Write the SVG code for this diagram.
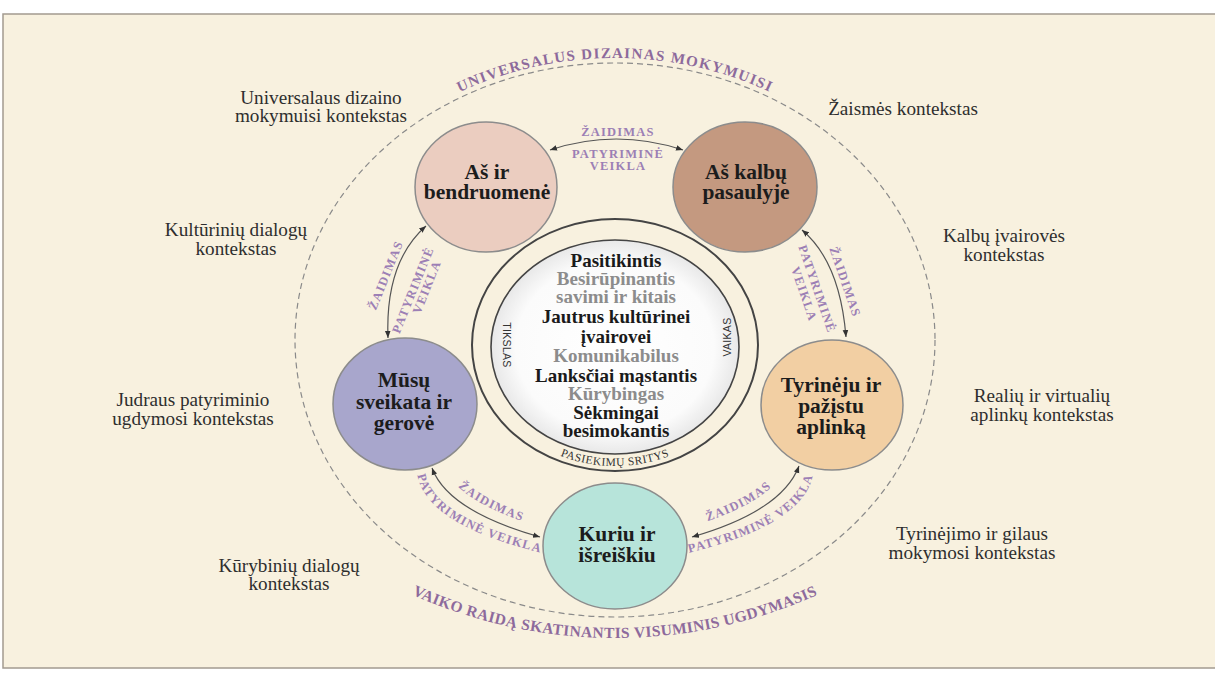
<svg xmlns="http://www.w3.org/2000/svg" width="1215" height="684" viewBox="0 0 1215 684">
<style>
.ctx{font-family:"Liberation Serif",serif;font-size:19.2px;fill:#2e2e2e;text-anchor:middle}
.node{stroke:#8c8c8c;stroke-width:1.5}
.nt{font-family:"Liberation Serif",serif;font-weight:bold;font-size:21.5px;fill:#1c1c1c;text-anchor:middle}
.ct{font-family:"Liberation Serif",serif;font-weight:bold;font-size:19px;text-anchor:middle}
.blk{fill:#1a1a1a}
.gry{fill:#8c8c8c}
.lbl{font-family:"Liberation Serif",serif;font-weight:bold;font-size:12.5px;fill:#9C7FB5;letter-spacing:1.2px;text-anchor:middle}
.big{font-family:"Liberation Serif",serif;font-weight:bold;font-size:15px;fill:#8D6A9C;letter-spacing:1.3px}
.big2{font-family:"Liberation Serif",serif;font-weight:bold;font-size:15.5px;fill:#8D6A9C;letter-spacing:0.4px}
.small{font-family:"Liberation Sans",sans-serif;font-size:10.5px;fill:#333;letter-spacing:0.3px}
.pas{font-family:"Liberation Serif",serif;font-size:11.5px;fill:#333;letter-spacing:0.5px}
.conn{fill:none;stroke:#555;stroke-width:1.2}
</style>
<defs>
<marker id="ah" viewBox="0 0 10 10" refX="10" refY="5" markerWidth="7" markerHeight="7" orient="auto-start-reverse" markerUnits="userSpaceOnUse">
<path d="M0,1 L10,5 L0,9 z" fill="#333"/>
</marker>
<radialGradient id="wg" cx="50%" cy="50%" r="50%">
<stop offset="0%" stop-color="#ffffff"/>
<stop offset="80%" stop-color="#fbfbfb"/>
<stop offset="100%" stop-color="#e8e8e8"/>
</radialGradient>
<path id="topArc" d="M290,340 A325,282 0 0 1 940,340"/>
<path id="botArc" d="M348,560 A496,496 0 0 0 882,560"/>
<path id="pasArc" d="M479,345 A136,121 0 0 0 751,345"/>
<path id="z4" d="M440,461 Q456,504 548,529"/>
<path id="p4" d="M418,478 Q430,525 538,552"/>
<path id="z5" d="M682,529 Q774,504 790,461"/>
<path id="p5" d="M692,552 Q800,525 812,478"/>
</defs>

<rect x="3" y="14" width="1214" height="654" fill="#F8F1DF" stroke="#A39A90" stroke-width="1.5"/>

<g id="outer-ring">
<ellipse cx="615" cy="340" rx="320" ry="277" fill="none" stroke="#8a8a8a" stroke-width="1.2" stroke-dasharray="6 4"/>
<text class="big"><textPath href="#topArc" startOffset="50%" text-anchor="middle">UNIVERSALUS DIZAINAS MOKYMUISI</textPath></text>
<text class="big2"><textPath href="#botArc" startOffset="50%" text-anchor="middle">VAIKO RAIDĄ SKATINANTIS VISUMINIS UGDYMASIS</textPath></text>
</g>

<g id="contexts">
<text class="ctx"><tspan x="321" y="104">Universalaus dizaino</tspan><tspan x="321" y="122">mokymuisi kontekstas</tspan></text>
<text class="ctx" x="903" y="115">Žaismės kontekstas</text>
<text class="ctx"><tspan x="236" y="236">Kultūrinių dialogų</tspan><tspan x="236" y="255">kontekstas</tspan></text>
<text class="ctx"><tspan x="1004" y="242">Kalbų įvairovės</tspan><tspan x="1004" y="261">kontekstas</tspan></text>
<text class="ctx"><tspan x="193" y="406">Judraus patyriminio</tspan><tspan x="193" y="425">ugdymosi kontekstas</tspan></text>
<text class="ctx"><tspan x="1042" y="402">Realių ir virtualių</tspan><tspan x="1042" y="421">aplinkų kontekstas</tspan></text>
<text class="ctx"><tspan x="289" y="572">Kūrybinių dialogų</tspan><tspan x="289" y="590">kontekstas</tspan></text>
<text class="ctx"><tspan x="972" y="540">Tyrinėjimo ir gilaus</tspan><tspan x="972" y="559">mokymosi kontekstas</tspan></text>
</g>

<g id="center">
<ellipse cx="615" cy="345" rx="143" ry="126" fill="none" stroke="#444" stroke-width="2"/>
<ellipse cx="615" cy="347" rx="124" ry="107" fill="url(#wg)" stroke="#444" stroke-width="1.6"/>
<text class="ct"><tspan class="blk" x="616" y="267">Pasitikintis</tspan><tspan class="gry" x="616" y="285">Besirūpinantis</tspan><tspan class="gry" x="616" y="303">savimi ir kitais</tspan><tspan class="blk" x="616" y="323">Jautrus kultūrinei</tspan><tspan class="blk" x="616" y="343">įvairovei</tspan><tspan class="gry" x="616" y="362">Komunikabilus</tspan><tspan class="blk" x="616" y="382">Lanksčiai mąstantis</tspan><tspan class="gry" x="616" y="400">Kūrybingas</tspan><tspan class="blk" x="616" y="419">Sėkmingai</tspan><tspan class="blk" x="616" y="437">besimokantis</tspan></text>
<text class="small" transform="translate(507,345) rotate(90)" text-anchor="middle" y="4">TIKSLAS</text>
<text class="small" transform="translate(727,337) rotate(-90)" text-anchor="middle" y="4">VAIKAS</text>
<text class="pas"><textPath href="#pasArc" startOffset="50%" text-anchor="middle">PASIEKIMŲ SRITYS</textPath></text>
</g>

<g id="connectors">
<path class="conn" d="M550,150 Q616,128 683,150" marker-start="url(#ah)" marker-end="url(#ah)"/>
<path class="conn" d="M426,226 Q385,262 388,338" marker-start="url(#ah)" marker-end="url(#ah)"/>
<path class="conn" d="M802,230 Q840,262 846,337" marker-start="url(#ah)" marker-end="url(#ah)"/>
<path class="conn" d="M432,468 Q448,511 540,537" marker-start="url(#ah)" marker-end="url(#ah)"/>
<path class="conn" d="M692,537 Q782,511 799,466" marker-start="url(#ah)" marker-end="url(#ah)"/>
<text class="lbl"><tspan x="618" y="136">ŽAIDIMAS</tspan><tspan x="618" y="158">PATYRIMINĖ</tspan><tspan x="618" y="170">VEIKLA</tspan></text>
<text class="lbl" transform="translate(410,285) rotate(-68)"><tspan x="0" y="-22">ŽAIDIMAS</tspan><tspan x="-3.5" y="8.7">PATYRIMINĖ</tspan><tspan x="4.5" y="20.5">VEIKLA</tspan></text>
<text class="lbl" transform="translate(820,288) rotate(71)"><tspan x="2.5" y="-21.6">ŽAIDIMAS</tspan><tspan x="0" y="7.2">PATYRIMINĖ</tspan><tspan x="0.5" y="21.1">VEIKLA</tspan></text>
<text class="lbl"><textPath href="#z4" startOffset="52%" text-anchor="middle">ŽAIDIMAS</textPath><textPath href="#p4" startOffset="50%" text-anchor="middle">PATYRIMINĖ VEIKLA</textPath></text>
<text class="lbl"><textPath href="#z5" startOffset="48%" text-anchor="middle">ŽAIDIMAS</textPath><textPath href="#p5" startOffset="50%" text-anchor="middle">PATYRIMINĖ VEIKLA</textPath></text>
</g>

<g id="node-bendruomene">
<ellipse class="node" cx="486" cy="187" rx="71" ry="65" fill="#EBCDC0"/>
<text class="nt"><tspan x="487" y="179">Aš ir</tspan><tspan x="487" y="199">bendruomenė</tspan></text>
</g>
<g id="node-kalbu">
<ellipse class="node" cx="745" cy="187" rx="72" ry="65" fill="#C49980"/>
<text class="nt"><tspan x="746" y="179">Aš kalbų</tspan><tspan x="746" y="199">pasaulyje</tspan></text>
</g>
<g id="node-sveikata">
<ellipse class="node" cx="405" cy="404" rx="72" ry="66" fill="#A8A6CC"/>
<text class="nt"><tspan x="404" y="387">Mūsų</tspan><tspan x="404" y="409">sveikata ir</tspan><tspan x="404" y="430">gerovė</tspan></text>
</g>
<g id="node-tyrineju">
<ellipse class="node" cx="832" cy="405" rx="71" ry="65" fill="#F2CFA3"/>
<text class="nt"><tspan x="831" y="392">Tyrinėju ir</tspan><tspan x="831" y="413">pažįstu</tspan><tspan x="831" y="434">aplinką</tspan></text>
</g>
<g id="node-kuriu">
<ellipse class="node" cx="615" cy="546" rx="72" ry="63" fill="#B7E4DA"/>
<text class="nt"><tspan x="617" y="541">Kuriu ir</tspan><tspan x="617" y="562">išreiškiu</tspan></text>
</g>
</svg>
